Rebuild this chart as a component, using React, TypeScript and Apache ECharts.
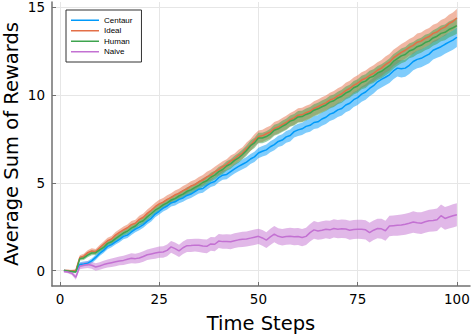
import React, { useEffect, useRef } from "react";
import * as echarts from "echarts";

const steps: number[] = Array.from({ length: 100 }, (_, i) => i + 1);

const xTicks = [0, 25, 50, 75, 100];
const yTicks = [0, 5, 10, 15];

const seriesNames = ["Centaur", "Ideal", "Human", "Naive"];

const centaurMean = [
  0.0, -0.02, -0.04, -0.03, 0.35, 0.38, 0.42, 0.55, 0.75, 0.98,
  1.15, 1.38, 1.48, 1.64, 1.78, 1.95, 2.02, 2.2, 2.36, 2.48,
  2.62, 2.82, 2.98, 3.22, 3.38, 3.56, 3.68, 3.86, 3.92, 4.06,
  4.14, 4.28, 4.36, 4.5, 4.64, 4.68, 4.86, 5.0, 5.08, 5.3,
  5.44, 5.48, 5.64, 5.8, 5.94, 6.06, 6.18, 6.36, 6.48, 6.7,
  6.8, 6.88, 7.06, 7.18, 7.36, 7.44, 7.62, 7.7, 7.92, 8.02,
  8.08, 8.22, 8.28, 8.44, 8.48, 8.64, 8.74, 8.92, 9.0, 9.16,
  9.24, 9.44, 9.54, 9.74, 9.86, 10.06, 10.18, 10.38, 10.54, 10.76,
  10.9, 11.02, 11.16, 11.38, 11.54, 11.5, 11.54, 11.7, 11.92, 12.04,
  12.1, 12.22, 12.34, 12.56, 12.66, 12.76, 12.9, 13.02, 13.14, 13.3,
];
const centaurSpread = [
  0.04, 0.05, 0.06, 0.08, 0.12, 0.13, 0.13, 0.14, 0.15, 0.15,
  0.15, 0.16, 0.15, 0.16, 0.16, 0.17, 0.16, 0.17, 0.17, 0.18,
  0.18, 0.18, 0.19, 0.18, 0.19, 0.2, 0.2, 0.21, 0.21, 0.22,
  0.22, 0.23, 0.22, 0.23, 0.24, 0.24, 0.25, 0.24, 0.25, 0.26,
  0.26, 0.27, 0.26, 0.27, 0.28, 0.28, 0.29, 0.28, 0.29, 0.3,
  0.3, 0.31, 0.31, 0.32, 0.32, 0.33, 0.33, 0.34, 0.34, 0.35,
  0.35, 0.36, 0.36, 0.37, 0.37, 0.38, 0.38, 0.39, 0.39, 0.4,
  0.4, 0.41, 0.41, 0.42, 0.42, 0.43, 0.44, 0.44, 0.45, 0.45,
  0.46, 0.46, 0.47, 0.48, 0.48, 0.49, 0.49, 0.5, 0.5, 0.51,
  0.51, 0.52, 0.52, 0.53, 0.53, 0.54, 0.54, 0.55, 0.55, 0.56,
];

const idealMean = [
  0.0, 0.0, -0.02, 0.0, 0.75, 0.82, 1.02, 1.12, 1.08, 1.3,
  1.5, 1.7, 1.8, 2.02, 2.18, 2.32, 2.44, 2.62, 2.7, 2.92,
  3.04, 3.26, 3.44, 3.64, 3.8, 3.9, 4.06, 4.16, 4.32, 4.4,
  4.56, 4.66, 4.82, 4.9, 5.06, 5.16, 5.34, 5.44, 5.62, 5.76,
  5.92, 6.04, 6.24, 6.36, 6.56, 6.7, 6.96, 7.16, 7.42, 7.64,
  7.68, 7.8, 7.9, 8.1, 8.18, 8.32, 8.44, 8.6, 8.7, 8.86,
  8.88, 9.0, 9.08, 9.24, 9.34, 9.46, 9.56, 9.72, 9.8, 9.96,
  10.08, 10.26, 10.38, 10.56, 10.68, 10.86, 10.96, 11.12, 11.24, 11.42,
  11.54, 11.74, 11.88, 12.12, 12.28, 12.44, 12.56, 12.72, 12.84, 13.02,
  13.08, 13.24, 13.34, 13.52, 13.6, 13.78, 13.88, 14.08, 14.2, 14.4,
];
const idealSpread = [
  0.04, 0.05, 0.06, 0.08, 0.13, 0.14, 0.14, 0.15, 0.15, 0.16,
  0.16, 0.17, 0.17, 0.18, 0.18, 0.19, 0.19, 0.2, 0.2, 0.21,
  0.21, 0.22, 0.22, 0.23, 0.23, 0.24, 0.24, 0.25, 0.25, 0.26,
  0.26, 0.27, 0.27, 0.28, 0.28, 0.29, 0.29, 0.3, 0.3, 0.31,
  0.31, 0.31, 0.32, 0.32, 0.33, 0.33, 0.34, 0.34, 0.35, 0.35,
  0.35, 0.36, 0.36, 0.37, 0.37, 0.38, 0.38, 0.38, 0.39, 0.39,
  0.4, 0.4, 0.4, 0.41, 0.41, 0.42, 0.42, 0.42, 0.43, 0.43,
  0.43, 0.44, 0.44, 0.44, 0.45, 0.45, 0.45, 0.46, 0.46, 0.46,
  0.46, 0.47, 0.47, 0.47, 0.47, 0.48, 0.48, 0.48, 0.48, 0.49,
  0.49, 0.49, 0.49, 0.5, 0.5, 0.5, 0.5, 0.5, 0.51, 0.51,
];

const humanMean = [
  0.0, -0.02, -0.05, -0.08, 0.68, 0.72, 0.88, 1.0, 1.02, 1.18,
  1.32, 1.55, 1.64, 1.82, 1.98, 2.14, 2.24, 2.42, 2.54, 2.74,
  2.84, 3.06, 3.24, 3.44, 3.58, 3.74, 3.86, 4.02, 4.1, 4.26,
  4.36, 4.52, 4.6, 4.74, 4.86, 5.02, 5.12, 5.32, 5.44, 5.64,
  5.76, 5.96, 6.08, 6.28, 6.42, 6.62, 6.84, 7.12, 7.28, 7.56,
  7.56, 7.64, 7.78, 8.0, 8.08, 8.22, 8.34, 8.52, 8.6, 8.76,
  8.78, 8.9, 8.98, 9.14, 9.22, 9.34, 9.44, 9.6, 9.68, 9.84,
  9.94, 10.12, 10.22, 10.42, 10.52, 10.72, 10.8, 11.0, 11.08, 11.26,
  11.36, 11.52, 11.68, 11.92, 12.08, 12.24, 12.32, 12.52, 12.6, 12.76,
  12.84, 13.0, 13.08, 13.26, 13.36, 13.52, 13.58, 13.74, 13.84, 13.96,
];
const humanSpread = [
  0.04, 0.05, 0.06, 0.07, 0.11, 0.12, 0.12, 0.13, 0.13, 0.14,
  0.14, 0.15, 0.15, 0.15, 0.16, 0.16, 0.17, 0.17, 0.17, 0.18,
  0.18, 0.19, 0.19, 0.19, 0.2, 0.2, 0.21, 0.21, 0.21, 0.22,
  0.22, 0.23, 0.23, 0.23, 0.24, 0.24, 0.25, 0.25, 0.25, 0.26,
  0.26, 0.27, 0.27, 0.27, 0.28, 0.28, 0.29, 0.29, 0.29, 0.3,
  0.3, 0.3, 0.31, 0.31, 0.31, 0.32, 0.32, 0.32, 0.33, 0.33,
  0.33, 0.34, 0.34, 0.34, 0.35, 0.35, 0.35, 0.36, 0.36, 0.36,
  0.37, 0.37, 0.37, 0.38, 0.38, 0.38, 0.39, 0.39, 0.39, 0.4,
  0.4, 0.4, 0.41, 0.41, 0.41, 0.42, 0.42, 0.42, 0.43, 0.43,
  0.43, 0.44, 0.44, 0.44, 0.45, 0.45, 0.45, 0.46, 0.46, 0.46,
];

const naiveMean = [
  -0.05, -0.08, -0.15, -0.38, 0.25, 0.3, 0.34, 0.3, 0.2, 0.26,
  0.34, 0.4, 0.45, 0.5, 0.55, 0.58, 0.64, 0.7, 0.68, 0.72,
  0.8, 0.9, 0.95, 1.0, 1.05, 1.06, 1.15, 1.35, 1.25, 1.12,
  1.3, 1.42, 1.43, 1.45, 1.44, 1.4, 1.38, 1.52, 1.5, 1.68,
  1.65, 1.66, 1.64, 1.7, 1.75, 1.78, 1.8, 1.85, 1.9, 1.95,
  1.86, 1.74, 1.92, 2.08, 1.95, 1.9, 1.94, 1.96, 1.93, 1.94,
  1.88, 1.95, 2.16, 2.32, 2.26, 2.3, 2.35, 2.32, 2.4, 2.36,
  2.38, 2.37, 2.3, 2.34, 2.36, 2.35, 2.32, 2.16, 2.3, 2.4,
  2.38, 2.27, 2.54, 2.56, 2.58, 2.6, 2.64, 2.7, 2.77, 2.72,
  2.7, 2.78, 2.84, 2.86, 2.9, 3.13, 2.97, 3.05, 3.12, 3.18,
];
const naiveSpread = [
  0.06, 0.08, 0.1, 0.14, 0.17, 0.18, 0.19, 0.2, 0.21, 0.22,
  0.22, 0.23, 0.24, 0.25, 0.25, 0.26, 0.27, 0.28, 0.28, 0.29,
  0.3, 0.3, 0.31, 0.32, 0.32, 0.33, 0.34, 0.34, 0.35, 0.35,
  0.36, 0.36, 0.37, 0.37, 0.38, 0.38, 0.39, 0.39, 0.4, 0.4,
  0.41, 0.41, 0.42, 0.42, 0.42, 0.43, 0.43, 0.44, 0.44, 0.44,
  0.45, 0.45, 0.46, 0.46, 0.46, 0.47, 0.47, 0.48, 0.48, 0.48,
  0.49, 0.49, 0.5, 0.5, 0.5, 0.51, 0.51, 0.52, 0.52, 0.52,
  0.53, 0.53, 0.54, 0.54, 0.54, 0.55, 0.55, 0.56, 0.56, 0.56,
  0.57, 0.57, 0.58, 0.58, 0.59, 0.59, 0.6, 0.6, 0.61, 0.61,
  0.62, 0.62, 0.63, 0.63, 0.64, 0.64, 0.65, 0.65, 0.66, 0.66,
];

const colors = ["#009AFA", "#E36F47", "#3EA44E", "#C371D2"];

function bandSeries(name: string, mean: number[], spread: number[], color: string) {
  return [
    {
      name: name + " band",
      type: "custom",
      silent: true,
      clip: true,
      data: [[steps[0], mean[0]]],
      encode: { x: 0, y: 1 },
      renderItem: (_params: any, api: any) => {
        const upper = mean.map((m, i) => api.coord([steps[i], m + spread[i]]));
        const lower = mean.map((m, i) => api.coord([steps[i], m - spread[i]])).reverse();
        return {
          type: "polygon",
          silent: true,
          shape: { points: upper.concat(lower) },
          style: { fill: color, opacity: 0.5, stroke: "none" },
        };
      },
    },
    {
      name,
      type: "line",
      data: mean.map((m, i) => [steps[i], m]),
      symbol: "none",
      lineStyle: { color, width: 1.5 },
      itemStyle: { color },
    },
  ];
}

const font = "DejaVu Sans";

export default function App() {
  const ref = useRef<HTMLDivElement>(null);
  useEffect(() => {
    if (!ref.current) return;
    const chart = echarts.init(ref.current, null, { renderer: "svg" });
    const axisColor = "#707070";
    chart.setOption({
      animation: false,
      backgroundColor: "#ffffff",
      grid: { left: 52, right: 2, top: 2, bottom: 48, containLabel: false, outerBoundsMode: "none" },
      legend: {
        data: seriesNames,
        orient: "vertical",
        left: 66,
        top: 10,
        icon: "rect",
        itemWidth: 28,
        itemHeight: 1.5,
        itemGap: 0,
        padding: [5, 9, 5, 5],
        backgroundColor: "#ffffff",
        borderColor: "#333333",
        borderWidth: 1,
        borderRadius: 0,
        textStyle: { fontSize: 8, lineHeight: 10.5, fontFamily: "Liberation Sans", color: "#000" },
      },
      xAxis: {
        type: "value",
        min: -2,
        max: 103.3,
        name: "Time Steps",
        nameLocation: "middle",
        nameGap: 27,
        nameMoveOverlap: false,
        nameTextStyle: { fontSize: 19.5, lineHeight: 20, fontFamily: font, color: "#000" },
        axisLine: { show: true, onZero: false, lineStyle: { color: axisColor, width: 1.5 } },
        axisTick: { show: true, inside: true, length: 4, customValues: xTicks, lineStyle: { color: axisColor } },
        axisLabel: { customValues: xTicks, margin: 6, fontSize: 13.5, fontFamily: font, color: "#000" },
        splitLine: { show: true, lineStyle: { color: "#e6e6e6", width: 1 } },
      },
      yAxis: {
        type: "value",
        min: -0.88,
        max: 15.31,
        name: "Average Sum of Rewards",
        nameLocation: "middle",
        nameGap: 31,
        nameMoveOverlap: false,
        nameRotate: 90,
        nameTextStyle: { fontSize: 19.5, lineHeight: 20, fontFamily: font, color: "#000" },
        axisLine: { show: true, onZero: false, lineStyle: { color: axisColor, width: 1.5 } },
        axisTick: { show: true, inside: true, length: 4, customValues: yTicks, lineStyle: { color: axisColor } },
        axisLabel: { customValues: yTicks, margin: 7, fontSize: 13.5, fontFamily: font, color: "#000" },
        splitLine: { show: true, lineStyle: { color: "#e6e6e6", width: 1 } },
      },
      series: [
        ...bandSeries("Centaur", centaurMean, centaurSpread, colors[0]),
        ...bandSeries("Ideal", idealMean, idealSpread, colors[1]),
        ...bandSeries("Human", humanMean, humanSpread, colors[2]),
        ...bandSeries("Naive", naiveMean, naiveSpread, colors[3]),
      ],
    });
    return () => chart.dispose();
  }, []);
  return (
    <div
      ref={ref}
      style={{ position: "fixed", left: 0, top: 0, width: 472, height: 334 }}
    />
  );
}
